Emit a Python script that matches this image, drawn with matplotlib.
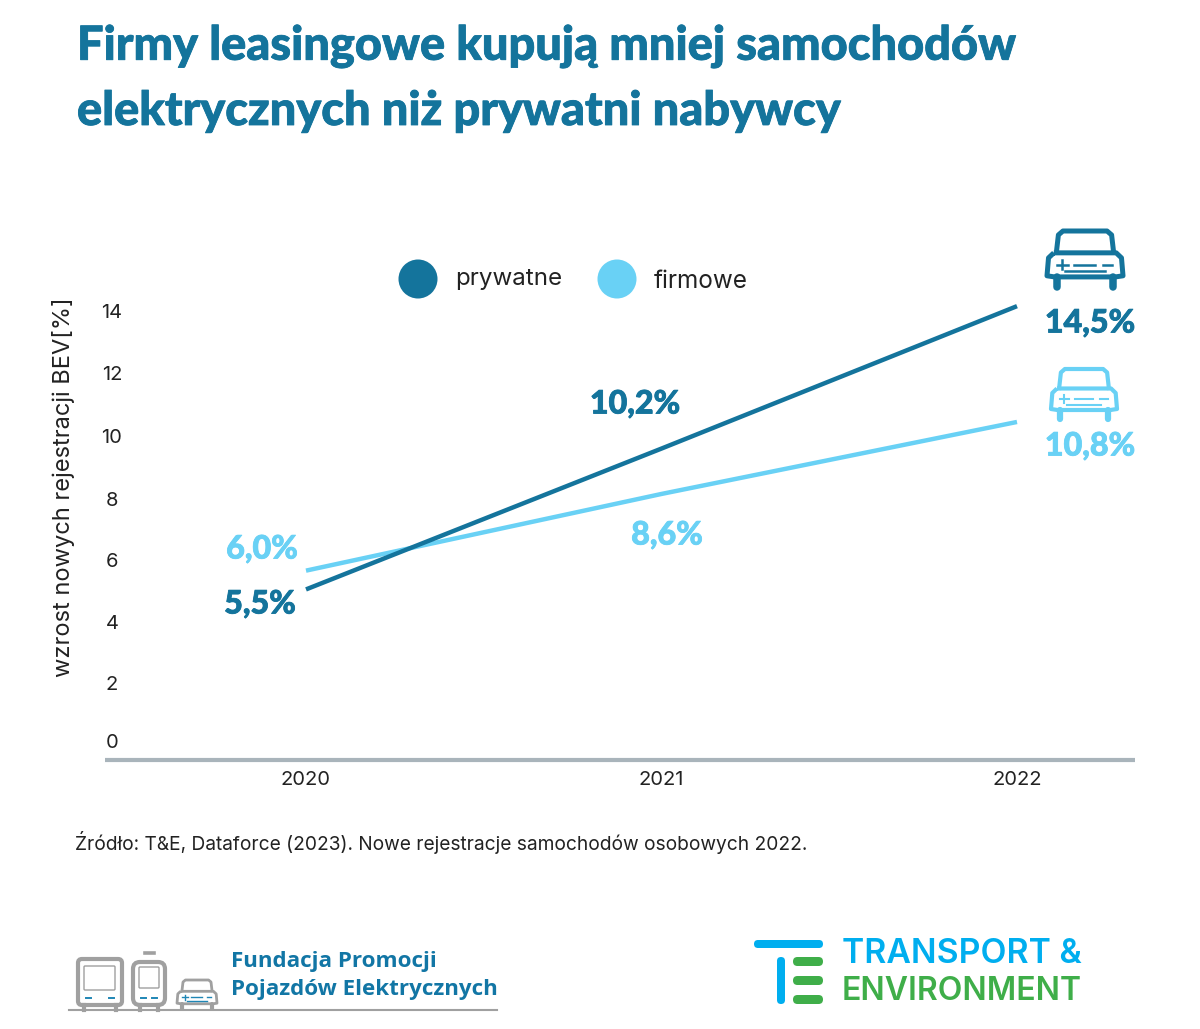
from matplotlib import pyplot as plt
from matplotlib import patheffects as pe
from matplotlib.patches import Circle, FancyBboxPatch, PathPatch
from matplotlib.path import Path
from matplotlib.transforms import Affine2D

W, H = 1200, 1029

years = [2020, 2021, 2022]
prywatne = [5.45, 9.95, 14.5]
firmowe = [6.05, 8.5, 10.8]
ytick_pos = [0.6, 2.45, 4.4, 6.4, 8.35, 10.35, 12.35, 14.35]
ytick_labels = ["0", "2", "4", "6", "8", "10", "12", "14"]
title_lines = ["Firmy leasingowe kupują mniej samochodów",
               "elektrycznych niż prywatni nabywcy"]
source = "Źródło: T&E, Dataforce (2023). Nowe rejestracje samochodów osobowych 2022."

DARK = "#14749c"
LIGHT = "#69d1f5"
GREY = "#a0a0a0"
BODY = "Inter"
HEAVY = "Lato"

fig = plt.figure(figsize=(W / 100, H / 100), dpi=100, facecolor="white")

# main axes, placed so the scale is about 31.3 px per unit
ax = fig.add_axes([105 / W, 1 - 760 / H, 1030 / W, 560 / H])
ax.set_xlim(2020 - 201 / 355.5, 2022 + 118 / 355.5)
ax.set_ylim(0, 560 / 31.3)
ax.plot(years, firmowe, color=LIGHT, lw=3.2, solid_capstyle="butt")
ax.plot(years, prywatne, color=DARK, lw=3.2, solid_capstyle="butt")

for s in ["top", "right", "left"]:
    ax.spines[s].set_visible(False)
ax.spines["bottom"].set_color("#a9b4bb")
ax.spines["bottom"].set_linewidth(3)
ax.spines["bottom"].set_capstyle("butt")
ax.patch.set_visible(False)
ax.set_xticks(years)
ax.set_xticklabels([str(y) for y in years], fontsize=14.5, family=BODY, color="#222222")
ax.set_yticks(ytick_pos)
ax.set_yticklabels(ytick_labels, fontsize=14.5, family=BODY, color="#222222", ha="center")
ax.tick_params(length=0)
ax.tick_params(axis="x", pad=8)
ax.tick_params(axis="y", pad=-5)

# overlay in pixel coordinates for the text and logos
ov = fig.add_axes([0, 0, 1, 1])
ov.set_xlim(0, W)
ov.set_ylim(H, 0)
ov.axis("off")


def txt(x, y, s, **kw):
    kw.setdefault("va", "center")
    kw.setdefault("family", BODY)
    return ov.text(x, y, s, **kw)


def heavy(x, y, s, size, color, stroke, **kw):
    t = txt(x, y, s, fontsize=size, family=HEAVY, weight="black", color=color, **kw)
    t.set_path_effects([pe.withStroke(linewidth=stroke, foreground=color)])
    return t


def rrect(x0, y0, x1, y1, r, **kw):
    p = FancyBboxPatch((x0 + r, y0 + r), x1 - x0 - 2 * r, y1 - y0 - 2 * r,
                       boxstyle=f"round,pad={r},rounding_size={r}", **kw)
    ov.add_patch(p)
    return p


def car(x, y, w, h, color, lw, detail=None):
    # outline in unit coords: 0..1 across, 0..1 down
    detail = detail or color
    roof = [(.12, .42), (.15, .07), (.21, 0), (.79, 0), (.85, .07), (.88, .42)]
    tr = Affine2D().scale(w, h).translate(x, y) + ov.transData
    ov.add_patch(PathPatch(Path(roof), fc="none", ec=color, lw=lw, joinstyle="round", transform=tr))
    body = [(.09, .39), (.91, .39), (.98, .48), (1, .8), (.9, .82), (.1, .82), (0, .8), (.02, .48), (.09, .39)]
    ov.add_patch(PathPatch(Path(body), fc="none", ec=color, lw=lw, joinstyle="round", transform=tr))
    for wx in (.13, .87):
        ov.plot([x + wx * w] * 2, [y + .82 * h, y + h], color=color, lw=lw * 1.5, solid_capstyle="round")
    for a, b, yy in [(.36, .63, .6), (.74, .86, .6), (.24, .76, .72), (.13, .27, .6)]:
        ov.plot([x + a * w, x + b * w], [y + yy * h] * 2, color=detail, lw=lw * .5)
    ov.plot([x + .2 * w] * 2, [y + .52 * h, y + .68 * h], color=detail, lw=lw * .5)


# title
for line, yy in zip(title_lines, [46, 111]):
    heavy(77, yy, line, 33.8, DARK, 0.6)

txt(64, 487, "wzrost nowych rejestracji BEV[%]", rotation=90, fontsize=17, ha="center", color="#222222")

# legend
ov.add_patch(Circle((418, 279), 19.5, color=DARK, lw=0))
ov.add_patch(Circle((617, 279), 19.5, color=LIGHT, lw=0))
txt(455, 279, "prywatne", fontsize=17.4, color="#222222")
txt(654, 282, "firmowe", fontsize=17.5, color="#222222")

# value labels
for x, y, s, c in [(262, 549, "6,0%", LIGHT), (260, 604, "5,5%", DARK), (635, 404, "10,2%", DARK),
                   (667, 535, "8,6%", LIGHT), (1090, 323, "14,5%", DARK), (1090, 446, "10,8%", LIGHT)]:
    heavy(x, y, s, 23.2, c, 0.6, ha="center")

car(1047, 231, 76, 56, DARK, 3.6)
car(1051, 369, 66, 50, LIGHT, 3)

txt(75, 842, source, fontsize=13.8, color="#222222")

# Fundacja logo
ov.plot([69, 497], [1010, 1010], color=GREY, lw=1.5)
rrect(78, 959, 122, 1005, 4, fc="white", ec=GREY, lw=3)
rrect(84, 966, 115, 990, 1, fc="white", ec=GREY, lw=1)
rrect(133, 962, 165, 1005, 7, fc="white", ec=GREY, lw=3)
rrect(139, 967, 159, 988, 1, fc="white", ec=GREY, lw=1)
ov.plot([145, 154], [953, 953], color=GREY, lw=2.6)
car(177, 980, 40, 29, GREY, 2, detail="#1f86b5")
for wx in (84, 116, 140, 158):
    ov.plot([wx, wx], [1005, 1010], color=GREY, lw=3)
for vx0, vx1 in [(84, 116), (139, 159)]:
    ov.plot([vx0 + 2, vx0 + 7], [998, 998], color="#1f86b5", lw=1.4)
    ov.plot([vx1 - 7, vx1 - 2], [998, 998], color="#1f86b5", lw=1.4)
txt(231, 962, "Fundacja Promocji", fontsize=16.1, weight="bold", family="Open Sans", color="#1276a5")
txt(231, 989, "Pojazdów Elektrycznych", fontsize=16.1, weight="bold", family="Open Sans", color="#1276a5")

# T&E logo
BLUE = "#00aeef"
GREEN = "#3fae49"
rrect(754, 940, 823, 948, 4, fc=BLUE, ec="none")
rrect(777, 957, 785, 1004, 4, fc=BLUE, ec="none")
for y0 in [957, 976, 995]:
    rrect(793, y0, 823, y0 + 9, 4.5, fc=GREEN, ec="none")
txt(842, 954, "TRANSPORT &", fontsize=24.3, weight="semibold", color=BLUE)
txt(842, 992, "ENVIRONMENT", fontsize=23, weight="semibold", color=GREEN)

fig.savefig("out.png", dpi=100, facecolor="white")
